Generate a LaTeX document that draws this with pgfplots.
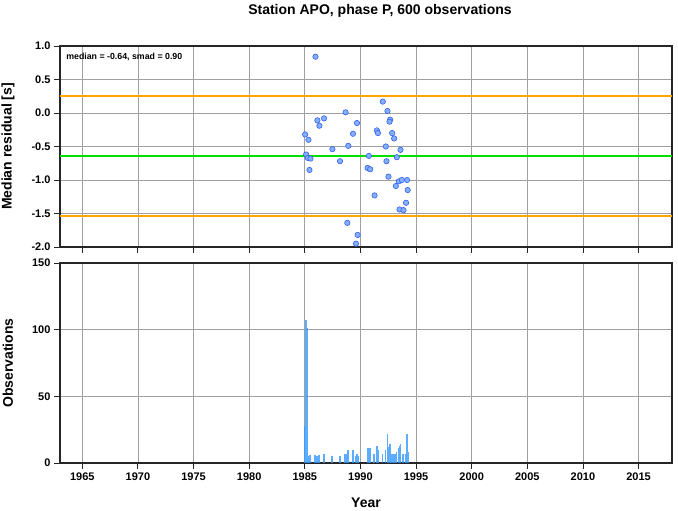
\documentclass[border=0pt]{standalone}
\usepackage{fontspec}
\setmainfont{Liberation Sans}[UprightFont={* Bold}, BoldFont={* Bold}]
\usepackage{pgfplots}
\pgfplotsset{compat=1.18}
\definecolor{ptfill}{HTML}{80B0FF}
\definecolor{ptdraw}{HTML}{3A5FE8}
\definecolor{barc}{HTML}{3399FF}
\definecolor{orng}{HTML}{FFA500}
\definecolor{grn}{HTML}{00E000}
\definecolor{grd}{HTML}{A0A0A0}
\begin{document}
\begin{tikzpicture}
\useasboundingbox (-60pt,-48pt) rectangle (618pt,463pt);
\pgfplotsset{
  every axis/.style={
    scale only axis, width=612pt,
    xmin=1963, xmax=2018,
    xtick={1965,1970,...,2015},
    grid=major, major grid style={grd, line width=0.6pt},
    axis line style={black!85, line width=1.3pt},
    tick style={black!85, line width=0.8pt},
    tick align=outside, major tick length=6pt,
    xtick pos=bottom, ytick pos=left,
    /pgf/number format/assume math mode=true,
    ticklabel style={font=\bfseries\fontsize{11}{13}\selectfont},
    label style={font=\bfseries\fontsize{14}{16}\selectfont},
    ylabel style={at={(axis description cs:-0.085,0.5)}, anchor=center},
  }
}
\begin{axis}[
  at={(0pt,216pt)}, anchor=south west, height=201pt,
  ymin=-2, ymax=1, ytick={-2,-1.5,...,1},
  yticklabel style={/pgf/number format/.cd, fixed, fixed zerofill, precision=1},
  xticklabels={},
  ylabel={Median residual [s]},
]
\addplot[grn, line width=2.6pt] coordinates {(1963,-0.64) (2018,-0.64)};
\addplot[orng, line width=2pt] coordinates {(1963,-1.54) (2018,-1.54)};
\addplot[orng, line width=2pt] coordinates {(1963,0.26) (2018,0.26)};
\addplot[only marks, mark=*, mark size=2.7pt, mark options={fill=ptfill, draw=ptdraw, line width=0.6pt}] coordinates {
(1985.96,0.84) (1992.01,0.17) (1992.43,0.03) (1988.67,0.01) (1986.13,-0.11)
(1986.73,-0.08) (1986.31,-0.19) (1989.69,-0.15) (1992.67,-0.10) (1992.61,-0.13)
(1991.48,-0.26) (1991.57,-0.30) (1989.33,-0.31) (1985.03,-0.32) (1985.33,-0.40)
(1992.85,-0.30) (1993.03,-0.38) (1988.91,-0.49) (1987.48,-0.54) (1992.28,-0.50)
(1993.60,-0.55) (1985.12,-0.62) (1985.27,-0.67) (1985.51,-0.68) (1990.76,-0.64)
(1993.27,-0.66) (1988.16,-0.72) (1992.34,-0.72) (1990.64,-0.82) (1990.88,-0.84)
(1985.42,-0.85) (1992.52,-0.95) (1993.45,-1.02) (1993.72,-1.00) (1994.19,-1.00)
(1993.18,-1.09) (1994.25,-1.15) (1991.27,-1.23) (1994.10,-1.34) (1993.51,-1.44)
(1993.87,-1.45) (1988.82,-1.64) (1989.75,-1.82) (1989.60,-1.95)
};
\node[anchor=north west, font=\bfseries\fontsize{8.8}{11}\selectfont, inner sep=0pt] at (axis description cs:0.01,0.965) {median = -0.64, smad = 0.90};
\end{axis}
\begin{axis}[
  at={(0pt,0pt)}, anchor=south west, height=200pt,
  ymin=0, ymax=150, ytick={0,50,100,150},
  xlabel={Year}, xlabel style={at={(axis description cs:0.5,-0.2)}, anchor=center},
  ylabel={Observations},
  xticklabel style={/pgf/number format/.cd, 1000 sep={}},
]
\addplot[ycomb, barc, line width=1.8pt, opacity=0.8] coordinates {
(1985.00,28) (1985.08,107) (1985.20,101) (1985.33,5) (1985.48,6)
(1985.93,6) (1986.10,5) (1986.31,6) (1986.70,7) (1987.45,5)
(1988.13,5) (1988.61,7) (1988.79,7) (1988.91,10) (1989.33,10)
(1989.60,5) (1989.69,7) (1989.78,5) (1990.67,11) (1990.80,11) (1990.88,11)
(1991.24,7) (1991.51,13) (1991.60,10) (1991.99,7) (1992.25,10)
(1992.43,22) (1992.52,12) (1992.67,14) (1992.85,7) (1992.97,7)
(1993.12,7) (1993.24,8) (1993.42,11) (1993.51,13) (1993.60,14)
(1993.84,7) (1994.13,7) (1994.19,22) (1994.28,8)
};
\end{axis}
\node[font=\bfseries\fontsize{14}{16}\selectfont] at (320pt,452pt) {Station APO, phase P, 600 observations};
\end{tikzpicture}
\end{document}
